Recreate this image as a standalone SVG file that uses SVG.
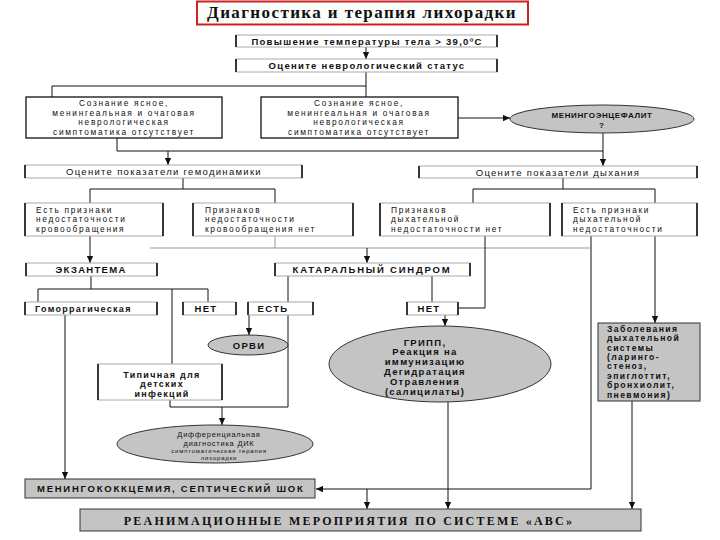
<svg xmlns="http://www.w3.org/2000/svg" width="720" height="540" viewBox="0 0 720 540">
<defs>
<marker id="ah" viewBox="0 0 10 10" refX="10" refY="5" markerWidth="7" markerHeight="7" markerUnits="userSpaceOnUse" orient="auto"><path d="M0,0.5 L10,5 L0,9.5 z" fill="#111"/></marker>
</defs>
<style>
.t{font-family:"Liberation Sans",Arial,sans-serif;font-size:9.5px;letter-spacing:1.3px;fill:#111}
.m{font-size:8.3px;letter-spacing:1.7px}
.b{font-weight:bold}
.c{text-anchor:middle}
.bx{fill:#fff;stroke:#aaa;stroke-width:1}
.sd{fill:none;stroke:#111;stroke-width:1.6}
.fb{fill:#fff;stroke:#111;stroke-width:1.3}
.gr{fill:#c4c4c4;stroke:#333;stroke-width:1}
.ln{fill:none;stroke:#111;stroke-width:1}
.lg{fill:none;stroke:#999;stroke-width:1}
.ar{marker-end:url(#ah)}
</style>
<rect width="720" height="540" fill="#fff"/>

<g id="title">
<rect x="197" y="1.5" width="331" height="23" fill="#fbfdfb" stroke="#cc2222" stroke-width="2"/>
<text x="362" y="18" text-anchor="middle" font-family="Liberation Serif,serif" font-weight="bold" font-size="17" letter-spacing="1.4" fill="#111">Диагностика и терапия лихорадки</text>
</g>

<g id="connectors">
<path class="ln ar" d="M366,47 V59"/>
<path class="ln" d="M366,72 V97"/>
<path class="ln" d="M52,97 V86 H366"/>
<path class="ln ar" d="M458,118 H510"/>
<path class="ln" d="M117,138 V151 H603"/>
<path class="ln ar" d="M168,151 V165"/>
<path class="ln ar" d="M603,133 V166"/>
<path class="ln" d="M183,178 V189 M90,203 V189 H275 V203"/>
<path class="ln" d="M563,178 V189 M473,203 V189 H655 V203"/>
<path class="ln ar" d="M90,236 V263"/>
<path class="lg" d="M275,236 V248 M150,248 H590"/>
<path class="ln ar" d="M367,248 V263"/>
<path class="ln" d="M91,276 V289 M38,302 V289 H208 V302 M172,289 V364"/>
<path class="ln" d="M288,276 V302 M288,315 V407 H170 V400"/>
<path class="ln ar" d="M222,407 V425"/>
<path class="ln ar" d="M249,315 V335"/>
<path class="ln" d="M432,276 V302"/>
<path class="ln ar" d="M445,315 V326"/>
<path class="ln" d="M485,236 V308 H458"/>
<path class="ln ar" d="M591,236 V489 H316"/>
<path class="ln ar" d="M367,489 V509"/>
<path class="ln ar" d="M655,236 V323"/>
<path class="ln ar" d="M65,315 V479"/>
<path class="ln ar" d="M448,402 V509"/>
<path class="ln ar" d="M632,401 V509"/>
</g>

<g id="n_temp">
<rect class="bx" x="236" y="35" width="261" height="12"/>
<path class="sd" d="M236,35 V47 M497,35 V47"/>
<text class="t b c" x="367" y="44.5">Повышение температуры тела &gt; 39,0ºC</text>
</g>

<g id="n_neuro">
<rect class="bx" x="236" y="59" width="261" height="13"/>
<path class="sd" d="M236,59 V72 M497,59 V72"/>
<text class="t b c" x="367" y="69">Оцените неврологический статус</text>
</g>

<g id="n_consc1">
<rect class="fb" x="26" y="97" width="196" height="41"/>
<text class="t m c" x="124"><tspan x="124" y="106">Сознание ясное,</tspan><tspan x="124" y="115.5">менингеальная и очаговая</tspan><tspan x="124" y="125">неврологическая</tspan><tspan x="124" y="134.5">симптоматика отсутствует</tspan></text>
</g>

<g id="n_consc2">
<rect class="fb" x="261" y="97" width="197" height="41"/>
<text class="t m c" x="359"><tspan x="359" y="106">Сознание ясное,</tspan><tspan x="359" y="115.5">менингеальная и очаговая</tspan><tspan x="359" y="125">неврологическая</tspan><tspan x="359" y="134.5">симптоматика отсутствует</tspan></text>
</g>

<g id="e_mening">
<ellipse class="gr" cx="602" cy="119" rx="92" ry="14"/>
<text class="t b c" x="602" y="118" style="font-size:8px;letter-spacing:0.6px">МЕНИНГОЭНЦЕФАЛИТ</text>
<text class="t b c" x="602" y="127.5" style="font-size:8px">?</text>
</g>

<g id="n_hemo">
<rect class="bx" x="25" y="165" width="277" height="13"/>
<path class="sd" d="M25,165 V178 M302,165 V178"/>
<text class="t c" x="164" y="175">Оцените показатели гемодинамики</text>
</g>

<g id="n_breath">
<rect class="bx" x="419" y="166" width="278" height="12"/>
<path class="sd" d="M419,166 V178 M697,166 V178"/>
<text class="t c" x="558" y="175.5">Оцените показатели дыхания</text>
</g>

<g id="n_circ_yes">
<rect class="bx" x="25" y="203" width="138" height="33"/>
<path class="sd" d="M25,203 V236 M163,203 V236"/>
<text class="t m"><tspan x="36" y="212.5">Есть признаки</tspan><tspan x="36" y="222">недостаточности</tspan><tspan x="36" y="231.5">кровообращения</tspan></text>
</g>

<g id="n_circ_no">
<rect class="bx" x="193" y="203" width="160" height="33"/>
<path class="sd" d="M193,203 V236 M353,203 V236"/>
<text class="t m"><tspan x="205" y="212.5">Признаков</tspan><tspan x="205" y="222">недостаточности</tspan><tspan x="205" y="231.5">кровообращения нет</tspan></text>
</g>

<g id="n_resp_no">
<rect class="bx" x="380" y="203" width="170" height="33"/>
<path class="sd" d="M380,203 V236 M550,203 V236"/>
<text class="t m"><tspan x="391" y="212.5">Признаков</tspan><tspan x="391" y="222">дыхательной</tspan><tspan x="391" y="231.5">недостаточности нет</tspan></text>
</g>

<g id="n_resp_yes">
<rect class="bx" x="562" y="203" width="135" height="33"/>
<path class="sd" d="M562,203 V236 M697,203 V236"/>
<text class="t m"><tspan x="573" y="212.5">Есть признаки</tspan><tspan x="573" y="222">дыхательной</tspan><tspan x="573" y="231.5">недостаточности</tspan></text>
</g>

<g id="n_exan">
<rect class="bx" x="26" y="263" width="131" height="13"/>
<path class="sd" d="M26,263 V276 M157,263 V276"/>
<text class="t b c" x="91" y="273">ЭКЗАНТЕМА</text>
</g>

<g id="n_catar">
<rect class="bx" x="275" y="263" width="195" height="13"/>
<path class="sd" d="M275,263 V276 M470,263 V276"/>
<text class="t b c" x="372" y="273" style="letter-spacing:1.8px">КАТАРАЛЬНЫЙ СИНДРОМ</text>
</g>

<g id="n_hemorr">
<rect class="bx" x="25" y="302" width="132" height="13"/>
<path class="sd" d="M25,302 V315 M157,302 V315"/>
<text class="t b" x="35" y="312" style="font-size:9px">Гоморрагическая</text>
</g>

<g id="n_no1">
<rect class="bx" x="183" y="302" width="53" height="13"/>
<path class="sd" d="M183,302 V315 M236,302 V315"/>
<text class="t b c" x="206" y="312">НЕТ</text>
</g>

<g id="n_yes">
<rect class="bx" x="248" y="302" width="65" height="13"/>
<path class="sd" d="M248,302 V315 M313,302 V315"/>
<text class="t b c" x="273" y="312">ЕСТЬ</text>
</g>

<g id="n_no2">
<rect class="bx" x="407" y="302" width="51" height="13"/>
<path class="sd" d="M407,302 V315 M458,302 V315"/>
<text class="t b c" x="429" y="312">НЕТ</text>
</g>

<g id="e_orvi">
<ellipse class="gr" cx="248" cy="345" rx="40" ry="10"/>
<text class="t b c" x="249" y="348.5">ОРВИ</text>
</g>

<g id="e_flu">
<ellipse class="gr" cx="440" cy="364" rx="111" ry="38"/>
<text class="t b c"><tspan x="425" y="345.5">ГРИПП,</tspan><tspan x="425" y="355.3">Реакция на</tspan><tspan x="425" y="365.1">иммунизацию</tspan><tspan x="425" y="374.9">Дегидратация</tspan><tspan x="425" y="384.7">Отравления</tspan><tspan x="425" y="394.5">(салицилаты)</tspan></text>
</g>

<g id="n_typical">
<rect class="bx" x="98" y="364" width="124" height="36"/>
<path class="sd" d="M98,364 V400 M222,364 V400"/>
<text class="t b c" style="font-size:9px"><tspan x="162" y="377.5">Типичная для</tspan><tspan x="162" y="387">детских</tspan><tspan x="162" y="396.5">инфекций</tspan></text>
</g>

<g id="e_dic">
<ellipse class="gr" cx="215" cy="444" rx="98" ry="19"/>
<text class="t c" style="letter-spacing:0.8px"><tspan x="219" y="437" font-size="7.4">Дифференциальная</tspan><tspan x="219" y="445.5" font-size="7.4">диагностика ДИК</tspan><tspan x="219" y="453" font-size="6">симптоматическая терапия</tspan><tspan x="219" y="460.2" font-size="6">лихорадки</tspan></text>
</g>

<g id="n_resp_dis">
<rect class="gr" x="598" y="323" width="102" height="78"/>
<text class="t b" style="font-size:8.6px;letter-spacing:1.4px"><tspan x="607" y="331.8">Заболевания</tspan><tspan x="607" y="341.2">дыхательной</tspan><tspan x="607" y="350.6">системы</tspan><tspan x="607" y="360">(ларинго-</tspan><tspan x="607" y="369.4">стеноз,</tspan><tspan x="607" y="378.8">эпиглоттит,</tspan><tspan x="607" y="388.2">бронхиолит,</tspan><tspan x="607" y="397.6">пневмония)</tspan></text>
</g>

<g id="n_mening_shock">
<rect class="gr" x="25" y="479" width="290" height="19"/>
<text class="t b" x="37" y="492" style="letter-spacing:1.75px">МЕНИНГОКОККЦЕМИЯ, СЕПТИЧЕСКИЙ ШОК</text>
</g>

<g id="n_reanim">
<rect class="gr" x="80" y="509" width="561" height="22"/>
<text x="349" y="524.5" text-anchor="middle" font-family="Liberation Serif,serif" font-weight="bold" font-size="12" letter-spacing="2.2" fill="#111">РЕАНИМАЦИОННЫЕ МЕРОПРИЯТИЯ ПО СИСТЕМЕ «АВС»</text>
</g>
</svg>
